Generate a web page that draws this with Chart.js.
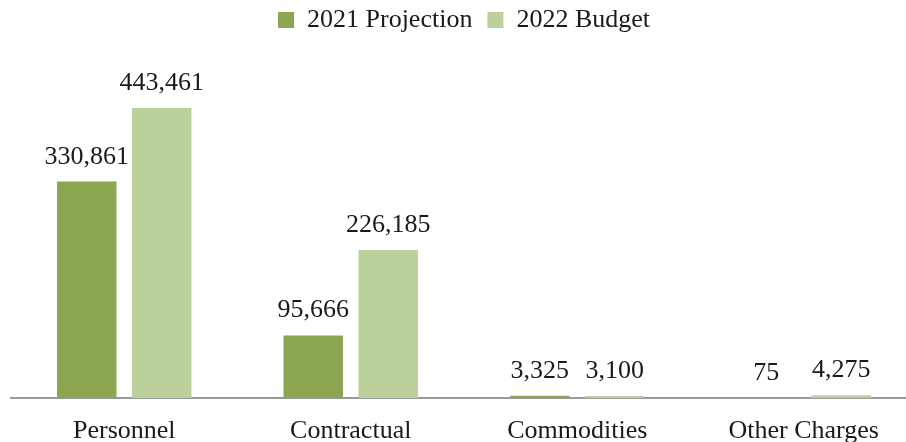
<!DOCTYPE html>
<html>
<head>
<meta charset="utf-8">
<script src="https://cdn.jsdelivr.net/npm/chart.js@4/dist/chart.umd.min.js"></script>
<style>
  html, body { margin: 0; padding: 0; background: #fff; overflow: hidden; }
  #wrap { position: absolute; left: 0; top: 0; width: 920px; height: 442px; }
</style>
</head>
<body>
<div id="wrap"><canvas id="budget"></canvas></div>
<script>
const categories = ["Personnel", "Contractual", "Commodities", "Other Charges"];
const projection2021 = [330861, 95666, 3325, 75];
const budget2022 = [443461, 226185, 3100, 4275];

const darkGreen = "#8ca651";
const lightGreen = "#bbd09a";
const serif = "'Liberation Serif', 'Times New Roman', serif";

// values drawn above each bar
const barLabels = {
  id: "barLabels",
  afterDatasetsDraw(chart) {
    const ctx = chart.ctx;
    ctx.save();
    ctx.font = "26px " + serif;
    ctx.fillStyle = "#1a1a1a";
    ctx.textAlign = "center";
    ctx.textBaseline = "alphabetic";
    chart.data.datasets.forEach((ds, i) => {
      chart.getDatasetMeta(i).data.forEach((bar, j) => {
        ctx.fillText(ds.data[j].toLocaleString("en-US"), bar.x, bar.y - 18);
      });
    });
    ctx.restore();
  },
};

// leave more room under the legend
const legendGap = {
  id: "legendGap",
  beforeInit(chart) {
    const fit = chart.legend.fit;
    chart.legend.fit = function () {
      fit.bind(chart.legend)();
      this.height = 79;
    };
  },
};

new Chart(document.getElementById("budget"), {
  type: "bar",
  data: {
    labels: categories,
    datasets: [
      {
        label: "2021 Projection",
        data: projection2021,
        backgroundColor: darkGreen,
        categoryPercentage: 0.662,
        barPercentage: 0.793,
      },
      {
        label: "2022 Budget",
        data: budget2022,
        backgroundColor: lightGreen,
        categoryPercentage: 0.662,
        barPercentage: 0.793,
      },
    ],
  },
  options: {
    responsive: true,
    maintainAspectRatio: false,
    animation: false,
    layout: { padding: { left: 11, right: 3, top: -8, bottom: 0 } },
    plugins: {
      legend: {
        position: "top",
        labels: {
          font: { family: serif, size: 26 },
          color: "#1a1a1a",
          boxWidth: 16,
          boxHeight: 16,
          padding: 15,
        },
      },
      tooltip: { enabled: false },
    },
    scales: {
      x: {
        grid: { display: false, drawTicks: false },
        border: { display: true, color: "#9a9a9a", width: 2 },
        ticks: {
          font: { family: serif, size: 26 },
          color: "#1a1a1a",
          padding: 18,
        },
        afterFit(scale) {
          scale.height = 44;
        },
      },
      y: {
        display: false,
        min: 0,
        max: 500000,
      },
    },
  },
  plugins: [barLabels, legendGap],
});
</script>
</body>
</html>
